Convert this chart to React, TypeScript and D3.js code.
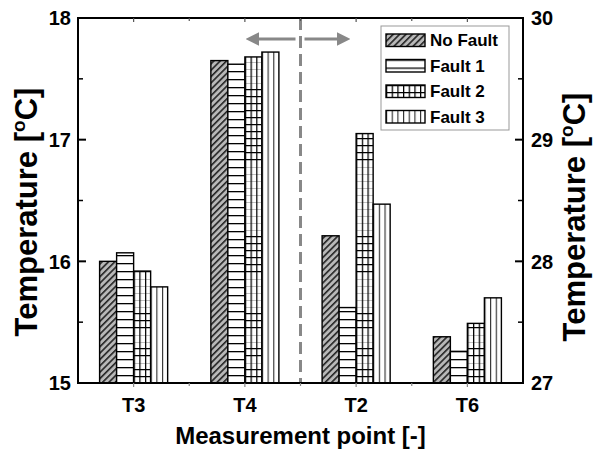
import React from 'react';
import * as d3 from 'd3';

const categories = ['T3', 'T4', 'T2', 'T6'];
const seriesNames = ['No Fault', 'Fault 1', 'Fault 2', 'Fault 3'];
// T3, T4 read on the left axis; T2, T6 on the right axis
const axisSide = ['left', 'left', 'right', 'right'];
const noFault = [16.0, 17.65, 28.21, 27.38];
const fault1 = [16.07, 17.62, 27.62, 27.26];
const fault2 = [15.92, 17.68, 29.05, 27.49];
const fault3 = [15.79, 17.72, 28.47, 27.7];
const leftTicks = [15, 16, 17, 18];
const rightTicks = [27, 28, 29, 30];

const W = 595;
const H = 452;
const margin = { top: 18, right: 72, bottom: 69, left: 78 };
const FONT = 'Arial, "Liberation Sans", sans-serif';

const App = () => {
  const x0 = margin.left;
  const x1 = W - margin.right;
  const y0 = H - margin.bottom;
  const y1 = margin.top;

  const xScale = d3.scaleBand().domain(categories).range([x0, x1]).padding(0);
  const inner = d3.scaleBand().domain(seriesNames).range([0, xScale.bandwidth()]).paddingOuter(1.27);
  const yLeft = d3.scaleLinear().domain([15, 18]).range([y0, y1]);
  const yRight = d3.scaleLinear().domain([27, 30]).range([y0, y1]);

  const values = [noFault, fault1, fault2, fault3];
  const bw = inner.bandwidth();

  const bars = categories.flatMap((c, ci) =>
    seriesNames.map((s, si) => {
      const scale = axisSide[ci] === 'left' ? yLeft : yRight;
      const v = values[si][ci];
      const bx = (xScale(c) as number) + (inner(s) as number);
      return { key: `${c}-${si}`, si, x: bx, y: scale(v), h: y0 - scale(v) };
    })
  );

  const leftMinor = d3.range(15.5, 18, 1);
  const rightMinor = d3.range(27.5, 30, 1);
  const boundaries = categories.slice(1).map((c) => xScale(c) as number);
  const split = xScale('T2') as number;
  const arrowY = 39;

  const patternFor = (si: number, id: string, ox: number, oy: number) => {
    if (si === 0)
      return (
        <pattern key={id} id={id} width={4.5} height={4.5} patternUnits="userSpaceOnUse" patternTransform="rotate(45)">
          <rect width={4.5} height={4.5} fill="#b8b8b8" />
          <line x1={0.8} y1={0} x2={0.8} y2={4.5} stroke="#222" strokeWidth={1.6} />
        </pattern>
      );
    if (si === 1)
      return (
        <pattern key={id} id={id} x={ox} y={oy} width={20} height={8} patternUnits="userSpaceOnUse">
          <rect width={20} height={8} fill="#fff" />
          <line x1={0} y1={0.5} x2={20} y2={0.5} stroke="#000" strokeWidth={1.6} />
        </pattern>
      );
    if (si === 2)
      return (
        <pattern key={id} id={id} x={ox} y={oy} width={bw / 3} height={7} patternUnits="userSpaceOnUse">
          <rect width={bw / 3} height={7} fill="#fff" />
          <line x1={0} y1={0.5} x2={bw / 3} y2={0.5} stroke="#000" strokeWidth={1.5} />
          <line x1={0.5} y1={0} x2={0.5} y2={7} stroke="#000" strokeWidth={1.5} />
        </pattern>
      );
    return (
      <pattern key={id} id={id} x={ox} y={oy} width={bw / 3} height={10} patternUnits="userSpaceOnUse">
        <rect width={bw / 3} height={10} fill="#fff" />
        <line x1={0.5} y1={0} x2={0.5} y2={10} stroke="#333" strokeWidth={1.3} />
      </pattern>
    );
  };

  const legend = { x: 381, y: 26, w: 128, h: 104, step: 25.5 };

  const yTitle = (tx: number, ty: number) => (
    <text transform={`translate(${tx},${ty}) rotate(-90)`} textAnchor="middle" fontSize={31} fontWeight="bold">
      Temperature [<tspan fontSize={19} dy={-12}>o</tspan><tspan dy={12}>C]</tspan>
    </text>
  );

  return (
    <div>
      <svg width={W} height={H} style={{ position: 'absolute', left: 0, top: 0, fontFamily: FONT }}>
        <defs>
          {bars.map((b) => patternFor(b.si, `p-${b.key}`, b.x, y0))}
          {seriesNames.map((s, si) => patternFor(si, `lg-${si}`, legend.x + 5, legend.y + 14 + si * legend.step - 6))}
          <marker id="arrow" viewBox="0 0 10 10" refX={2} refY={5} markerWidth={4.5} markerHeight={4.5} orient="auto">
            <path d="M0,0 L10,5 L0,10 z" fill="#888" />
          </marker>
        </defs>

        {/* bars */}
        {bars.map((b) => (
          <rect key={b.key} x={b.x} y={b.y} width={bw} height={b.h} fill={`url(#p-${b.key})`} stroke="#000" strokeWidth={1.4} />
        ))}

        {/* dashed divider and arrows */}
        <line x1={split} x2={split} y1={y1} y2={y0} stroke="#888" strokeWidth={3} strokeDasharray="12,6" />
        <line x1={split - 5} x2={split - 44} y1={arrowY} y2={arrowY} stroke="#888" strokeWidth={3} markerEnd="url(#arrow)" />
        <line x1={split + 4} x2={split + 39} y1={arrowY} y2={arrowY} stroke="#888" strokeWidth={3} markerEnd="url(#arrow)" />

        {/* frame */}
        <rect x={x0} y={y1} width={x1 - x0} height={y0 - y1} fill="none" stroke="#000" strokeWidth={2} />

        {/* left axis ticks */}
        {leftTicks.map((t) => (
          <g key={`l${t}`}>
            <line x1={x0} x2={x0 + 8} y1={yLeft(t)} y2={yLeft(t)} stroke="#000" strokeWidth={2} />
            <text x={x0 - 7} y={yLeft(t)} dy="0.36em" textAnchor="end" fontSize={20} fontWeight="bold">{t}</text>
          </g>
        ))}
        {leftMinor.map((t) => (
          <line key={`lm${t}`} x1={x0} x2={x0 + 5} y1={yLeft(t)} y2={yLeft(t)} stroke="#000" strokeWidth={1.5} />
        ))}

        {/* right axis ticks */}
        {rightTicks.map((t) => (
          <g key={`r${t}`}>
            <line x1={x1} x2={x1 - 8} y1={yRight(t)} y2={yRight(t)} stroke="#000" strokeWidth={2} />
            <text x={x1 + 8} y={yRight(t)} dy="0.36em" textAnchor="start" fontSize={20} fontWeight="bold">{t}</text>
          </g>
        ))}
        {rightMinor.map((t) => (
          <line key={`rm${t}`} x1={x1} x2={x1 - 5} y1={yRight(t)} y2={yRight(t)} stroke="#000" strokeWidth={1.5} />
        ))}

        {/* x axis ticks */}
        {categories.map((c) => {
          const cx = (xScale(c) as number) + xScale.bandwidth() / 2;
          return (
            <g key={c}>
              <line x1={cx} x2={cx} y1={y0} y2={y0 + 4} stroke="#888" strokeWidth={1.2} />
              <line x1={cx} x2={cx} y1={y1} y2={y1 + 4} stroke="#555" strokeWidth={1.2} />
              <text x={cx} y={y0 + 29} textAnchor="middle" fontSize={20} fontWeight="bold">{c}</text>
            </g>
          );
        })}
        {boundaries.map((bx) => (
          <g key={`b${bx}`}>
            <line x1={bx} x2={bx} y1={y0} y2={y0 + 3} stroke="#888" strokeWidth={1.2} />
            <line x1={bx} x2={bx} y1={y1} y2={y1 + 3} stroke="#555" strokeWidth={1.2} />
          </g>
        ))}

        {/* axis titles */}
        <text x={(x0 + x1) / 2} y={H - 8} textAnchor="middle" fontSize={24} fontWeight="bold">Measurement point [-]</text>
        {yTitle(37, 212)}
        {yTitle(585, 217)}

        {/* legend */}
        <rect x={legend.x} y={legend.y} width={legend.w} height={legend.h} fill="#fff" stroke="#999" strokeWidth={1} />
        {seriesNames.map((s, si) => {
          const cy = legend.y + 14 + si * legend.step;
          return (
            <g key={s}>
              <rect x={legend.x + 5} y={cy - 6} width={39} height={12.5} fill={`url(#lg-${si})`} stroke="#000" strokeWidth={1.4} />
              <text x={legend.x + 49} y={cy} dy="0.36em" fontSize={17} fontWeight="bold">{s}</text>
            </g>
          );
        })}
      </svg>
    </div>
  );
};

export default App;
